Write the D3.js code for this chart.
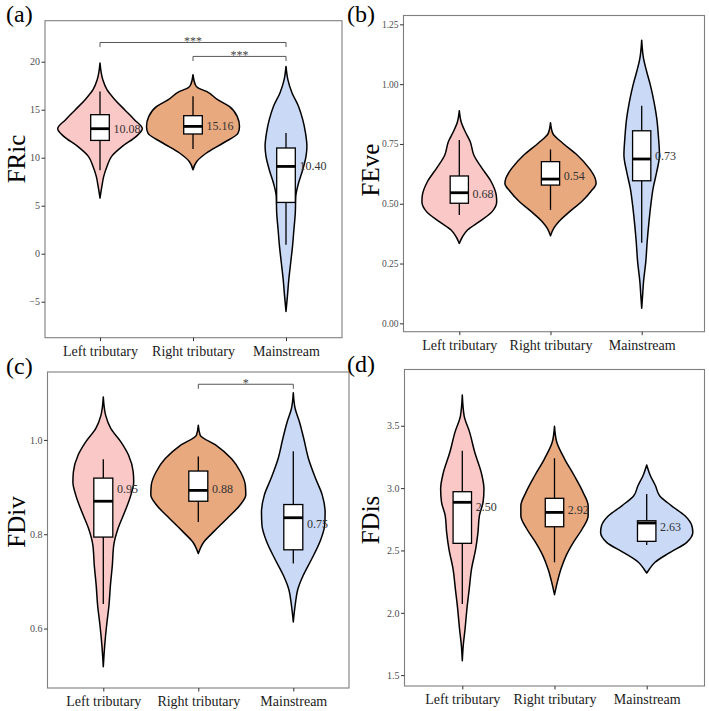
<!DOCTYPE html>
<html><head><meta charset="utf-8">
<script src="https://cdn.jsdelivr.net/npm/d3@7"></script>
<style>
body{margin:0;background:#fff}
svg{display:block}
text{font-family:"Liberation Serif","Times New Roman",serif}
</style>
</head><body>
<svg id="chart" width="709" height="711"></svg>
<script>
// ---------------- DATA ----------------
const categories = ["Left tributary", "Right tributary", "Mainstream"];
const fillColors = ["#FAC8C6", "#E9A97F", "#C9D9F6"];

// (a) FRic
const fricTicks = [-5, 0, 5, 10, 15, 20];
const fricViolins = [
  [[19.86,0],[18.13,6],[17.08,15],[16.04,32],[15.0,53],[13.96,74],[13.02,91],[12.22,78],[11.18,48],[10.14,25],[9.09,15],[8.05,8],[7.01,4],[5.80,0]],
  [[18.65,0],[17.6,5],[17.3,10],[16.9,29],[16.04,53],[15.34,78],[14.3,95],[13.26,100],[12.57,97],[11.53,65],[10.49,29],[9.61,8],[8.75,0]],
  [[19.51,0],[18.13,4],[16.74,13],[15.34,27],[13.96,36],[12.57,42],[11.18,45],[10.14,43],[8.75,36],[7.36,27],[5.97,21],[4.24,20],[2.5,17],[0.76,14],[-0.97,10],[-2.71,6],[-4.45,3],[-6.01,0]]
];
const fricBoxes = [[8.68,11.80,13.02,14.48,16.9],[10.9,12.47,13.26,14.375,16.39],[0.94,5.34,9.09,11.01,12.57]];
const fricLabels = ["10.08", "15.16", "10.40"];
const fricLabelAt = [13.02, 13.33, 9.17];
const fricSignif = [[0, 2, "***", 22.0], [1, 2, "***", 20.55]];

// (b) FEve
const feveTicks = [0, 0.25, 0.5, 0.75, 1.0, 1.25];
const feveViolins = [
  [[0.889,0],[0.843,4],[0.801,13],[0.759,24],[0.703,32],[0.648,50],[0.592,70],[0.536,81],[0.508,82],[0.467,72],[0.425,44],[0.39,18],[0.362,7],[0.334,0]],
  [[0.839,0],[0.794,5],[0.753,27],[0.703,59],[0.648,85],[0.606,98],[0.585,100],[0.550,88],[0.508,68],[0.467,42],[0.425,18],[0.397,7],[0.366,0]],
  [[1.184,0],[1.108,4],[1.052,11],[0.996,19],[0.926,27],[0.857,33],[0.773,37],[0.704,39],[0.634,33],[0.564,25],[0.495,20],[0.425,16],[0.341,12],[0.258,9],[0.174,4],[0.118,2],[0.063,0]]
];
const feveBoxes = [[0.453,0.502,0.546,0.616,0.766],[0.474,0.578,0.603,0.676,0.727],[0.337,0.596,0.687,0.805,0.910]];
const feveLabels = ["0.68", "0.54", "0.73"];
const feveLabelAt = [0.541, 0.616, 0.701];
const feveSignif = [];

// (c) FDiv
const fdivTicks = [0.6, 0.8, 1.0];
const fdivViolins = [
  [[1.091,0],[1.052,5],[1.024,16],[0.996,37],[0.968,53],[0.932,63],[0.911,64],[0.883,58],[0.847,45],[0.812,31],[0.777,22],[0.734,19],[0.692,15],[0.650,12],[0.607,7],[0.565,3],[0.519,0]],
  [[1.031,0],[1.010,4],[0.989,37],[0.960,70],[0.932,89],[0.904,99],[0.883,100],[0.862,88],[0.833,60],[0.805,32],[0.784,12],[0.759,0]],
  [[1.100,0],[1.066,4],[1.038,13],[1.003,22],[0.960,32],[0.918,47],[0.883,61],[0.847,67],[0.819,66],[0.784,56],[0.748,39],[0.713,21],[0.685,10],[0.650,4],[0.614,0]]
];
const fdivBoxes = [[0.652,0.794,0.870,0.919,0.959],[0.826,0.870,0.893,0.934,0.965],[0.738,0.767,0.835,0.863,0.976]];
const fdivLabels = ["0.95", "0.88", "0.75"];
const fdivLabelAt = [0.895, 0.895, 0.821];
const fdivSignif = [[1, 2, "*", 1.118]];

// (d) FDis
const fdisTicks = [1.5, 2.0, 2.5, 3.0, 3.5];
const fdisViolins = [
  [[3.746,0],[3.580,4],[3.447,16],[3.287,27],[3.126,41],[2.992,47],[2.886,45],[2.778,37],[2.645,34],[2.511,29],[2.351,20],[2.190,15],[2.030,10],[1.870,6],[1.736,2],[1.615,0]],
  [[3.495,0],[3.367,5],[3.233,22],[3.099,43],[2.966,62],[2.858,73],[2.778,73],[2.672,60],[2.565,41],[2.457,25],[2.351,14],[2.244,6],[2.145,0]],
  [[3.185,0],[3.099,8],[3.019,19],[2.939,28],[2.858,54],[2.778,83],[2.698,98],[2.645,100],[2.565,87],[2.485,51],[2.405,18],[2.351,6],[2.319,0]]
];
const fdisBoxes = [[2.070,2.557,2.886,2.971,3.300],[2.405,2.690,2.805,2.918,3.239],[2.543,2.573,2.720,2.738,2.952]];
const fdisLabels = ["2.50", "2.92", "2.63"];
const fdisLabelAt = [2.852, 2.824, 2.685];
const fdisSignif = [];

// ---------------- LAYOUT ----------------
const panels = [
  {tag:"(a)", tagX:6, tagY:21.5, title:"FRic", titleX:25, titleY:159,
   frame:[45, 20.7, 342, 337.7], cats:[100, 286], ydom:[-8.75, 24.27],
   ticks:fricTicks, fmt:d3.format("d"), tickFont:10,
   violins:fricViolins, boxes:fricBoxes, labels:fricLabels, labelAt:fricLabelAt, signif:fricSignif},
  {tag:"(b)", tagX:347, tagY:21.5, title:"FEve", titleX:379, titleY:170,
   frame:[403.5, 15.5, 704.5, 331.7], cats:[459.3, 641.7], ydom:[-0.035, 1.287],
   ticks:feveTicks, fmt:d3.format(".2f"), tickFont:9.5,
   violins:feveViolins, boxes:feveBoxes, labels:feveLabels, labelAt:feveLabelAt, signif:feveSignif},
  {tag:"(c)", tagX:6, tagY:373.5, title:"FDiv", titleX:25, titleY:522,
   frame:[47.5, 372, 349, 688], cats:[103.3, 293.3], ydom:[0.474, 1.144],
   ticks:fdivTicks, fmt:d3.format(".1f"), tickFont:10,
   violins:fdivViolins, boxes:fdivBoxes, labels:fdivLabels, labelAt:fdivLabelAt, signif:fdivSignif},
  {tag:"(d)", tagX:347, tagY:372, title:"FDis", titleX:379, titleY:520,
   frame:[404.5, 369.5, 704.5, 686], cats:[462.3, 646.7], ydom:[1.413, 3.951],
   ticks:fdisTicks, fmt:d3.format(".1f"), tickFont:10,
   violins:fdisViolins, boxes:fdisBoxes, labels:fdisLabels, labelAt:fdisLabelAt, signif:fdisSignif}
];

const svg = d3.select("#chart");

panels.forEach(p => {
  const [fx0, fy0, fx1, fy1] = p.frame;
  const g = svg.append("g");
  const x = d3.scalePoint().domain(categories).range(p.cats);
  const step = (p.cats[1] - p.cats[0]) / 2;
  const y = d3.scaleLinear().domain(p.ydom).range([fy1, fy0]);
  const w = d3.scaleLinear().domain([0, 100]).range([0, 0.5 * step]);

  g.append("rect").attr("x", fx0).attr("y", fy0).attr("width", fx1 - fx0).attr("height", fy1 - fy0)
    .attr("fill", "#fff");

  // violins
  const area = d3.area().y(d => y(d[0])).curve(d3.curveMonotoneY);
  p.violins.forEach((vd, i) => {
    const cx = x(categories[i]);
    const pts = vd.slice().sort((a, b) => b[0] - a[0]);
    area.x0(d => cx - w(d[1])).x1(d => cx + w(d[1]));
    g.append("path").attr("d", area(pts))
      .attr("fill", fillColors[i]).attr("stroke", "#000")
      .attr("stroke-width", 1.5).attr("stroke-linejoin", "round");
  });

  // boxes
  p.boxes.forEach((b, i) => {
    const cx = x(categories[i]);
    const bw = 0.1 * step;
    const [wb, q1, med, q3, wt] = b;
    g.append("line").attr("x1", cx).attr("x2", cx).attr("y1", y(wt)).attr("y2", y(q3))
      .attr("stroke", "#000").attr("stroke-width", 1.3);
    g.append("line").attr("x1", cx).attr("x2", cx).attr("y1", y(q1)).attr("y2", y(wb))
      .attr("stroke", "#000").attr("stroke-width", 1.3);
    g.append("rect").attr("x", cx - bw).attr("y", y(q3)).attr("width", 2 * bw).attr("height", y(q1) - y(q3))
      .attr("fill", "#fff").attr("stroke", "#000").attr("stroke-width", 1.3);
    g.append("line").attr("x1", cx - bw).attr("x2", cx + bw).attr("y1", y(med)).attr("y2", y(med))
      .attr("stroke", "#000").attr("stroke-width", 2.8);
  });

  // value labels
  p.labels.forEach((t, i) => {
    g.append("text").attr("x", x(categories[i]) + 0.145 * step).attr("y", y(p.labelAt[i]))
      .attr("dominant-baseline", "central").attr("font-size", 12).attr("fill", "#333").text(t);
  });

  // significance brackets
  p.signif.forEach(s => {
    const xa = x(categories[s[0]]), xb = x(categories[s[1]]), yy = y(s[3]);
    g.append("path").attr("d", `M${xa},${yy + 4.6}V${yy}H${xb}V${yy + 4.6}`)
      .attr("fill", "none").attr("stroke", "#444").attr("stroke-width", 0.9);
    g.append("text").attr("x", (xa + xb) / 2).attr("y", yy + 2.4).attr("text-anchor", "middle")
      .attr("font-size", 12).attr("fill", "#444").text(s[2]);
  });

  // frame border
  g.append("rect").attr("x", fx0).attr("y", fy0).attr("width", fx1 - fx0).attr("height", fy1 - fy0)
    .attr("fill", "none").attr("stroke", "#7f7f7f").attr("stroke-width", 1.1);

  // y axis
  const ya = d3.axisLeft(y).tickValues(p.ticks).tickFormat(p.fmt).tickSize(3.5).tickPadding(1.5);
  const yg = g.append("g").attr("transform", `translate(${fx0},0)`).call(ya);
  yg.select(".domain").remove();
  yg.selectAll(".tick line").attr("stroke", "#333");
  yg.selectAll(".tick text").attr("fill", "#4d4d4d").attr("font-size", p.tickFont)
    .attr("font-family", '"Liberation Serif","Times New Roman",serif');

  // x axis
  const xa = d3.axisBottom(x).tickSize(3.5).tickPadding(4);
  const xg = g.append("g").attr("transform", `translate(0,${fy1})`).call(xa);
  xg.select(".domain").remove();
  xg.selectAll(".tick line").attr("stroke", "#333");
  xg.selectAll(".tick text").attr("fill", "#1a1a1a").attr("font-size", 14)
    .attr("font-family", '"Liberation Serif","Times New Roman",serif')
    .attr("dy", null).attr("y", 18).attr("dominant-baseline", "alphabetic");

  // y title
  g.append("text").attr("transform", `translate(${p.titleX},${p.titleY}) rotate(-90)`)
    .attr("text-anchor", "middle").attr("font-size", 25).attr("fill", "#000").text(p.title);

  // tag
  g.append("text").attr("x", p.tagX).attr("y", p.tagY).attr("font-size", 24).attr("fill", "#000").text(p.tag);
});
</script>
</body></html>
